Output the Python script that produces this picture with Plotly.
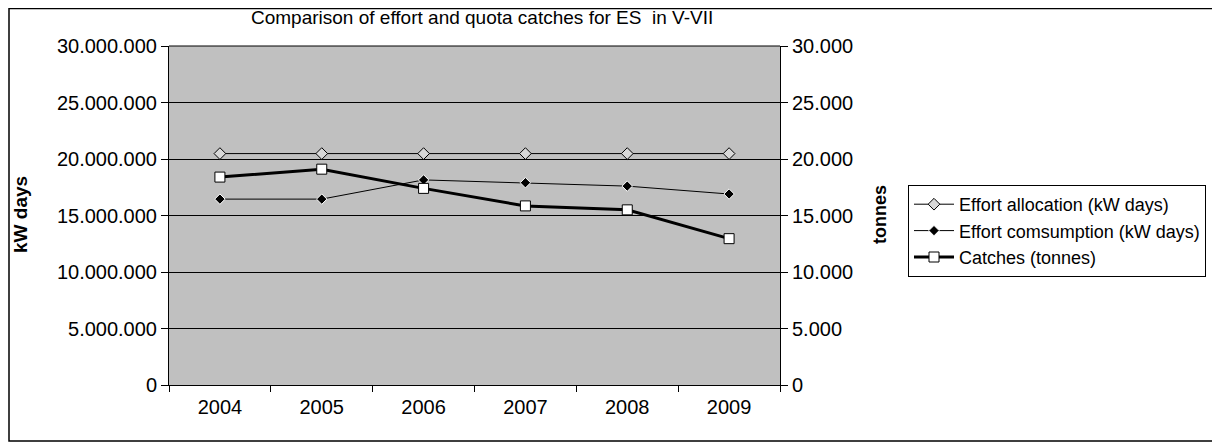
import plotly.graph_objects as go

years = ["2004", "2005", "2006", "2007", "2008", "2009"]
effort_allocation = [20480000, 20480000, 20480000, 20480000, 20480000, 20480000]
effort_consumption = [16450000, 16450000, 18150000, 17900000, 17600000, 16900000]
catches = [18400, 19100, 17400, 15850, 15500, 12950]

FONT = "Liberation Sans, Arial, sans-serif"
W, H = 1220, 445
L, R, T, B = 161, 772, 38, 377  # plot area in pixels


def px(x):
    return (x - L) / (R - L)


def py(y):
    return (B - y) / (B - T)


fig = go.Figure()
fig.add_trace(go.Scatter(
    x=years, y=effort_allocation, name="Effort allocation (kW days)",
    mode="lines+markers", line=dict(color="black", width=1),
    marker=dict(symbol="diamond", size=9, color="#D8D8D8", line=dict(color="black", width=1)),
))
fig.add_trace(go.Scatter(
    x=years, y=effort_consumption, name="Effort comsumption (kW days)",
    mode="lines+markers", line=dict(color="black", width=1),
    marker=dict(symbol="diamond", size=8, color="black", line=dict(color="white", width=1)),
))
fig.add_trace(go.Scatter(
    x=years, y=catches, name="Catches (tonnes)", yaxis="y2",
    mode="lines+markers", line=dict(color="black", width=3),
    marker=dict(symbol="square", size=10, color="white", line=dict(color="black", width=1)),
))

fig.update_layout(
    width=W, height=H,
    margin=dict(l=L, r=W - R, t=T, b=H - B),
    paper_bgcolor="white", plot_bgcolor="#C0C0C0",
    separators=",.",
    font=dict(family=FONT, size=20, color="black"),
    showlegend=True,
    legend=dict(
        x=px(900), y=py(177), xref="paper", yref="paper",
        xanchor="left", yanchor="top",
        bgcolor="white", bordercolor="black", borderwidth=1,
        font=dict(size=18), tracegroupgap=0, itemwidth=40,
    ),
    xaxis=dict(
        type="category", range=[-0.5, 5.5],
        showline=True, linecolor="black", linewidth=1,
        ticks="outside", tickson="boundaries", ticklen=6, tickcolor="black",
        showgrid=False, zeroline=False, ticklabelstandoff=4,
    ),
    yaxis=dict(
        range=[0, 30000000], dtick=5000000, tickformat=",d",
        showline=True, linecolor="black", linewidth=1,
        ticks="outside", ticklen=7, tickcolor="black",
        showgrid=True, gridcolor="black", gridwidth=1, zeroline=False,
    ),
    yaxis2=dict(
        range=[0, 30000], dtick=5000, tickformat=",d",
        overlaying="y", side="right",
        showline=True, linecolor="black", linewidth=1,
        ticks="outside", ticklen=7, tickcolor="black",
        showgrid=False, zeroline=False,
    ),
    annotations=[
        dict(text="Comparison of effort and quota catches for ES  in V-VII",
             x=px(474), y=py(10), xref="paper", yref="paper", showarrow=False,
             xanchor="center", yanchor="middle", font=dict(size=19)),
        dict(text="<b>kW days</b>", textangle=-90,
             x=px(12), y=py(207), xref="paper", yref="paper", showarrow=False,
             xanchor="center", yanchor="middle", font=dict(size=19)),
        dict(text="<b>tonnes</b>", textangle=-90,
             x=px(872), y=py(207), xref="paper", yref="paper", showarrow=False,
             xanchor="center", yanchor="middle", font=dict(size=18)),
    ],
    shapes=[
        dict(type="rect", xref="paper", yref="paper",
             x0=px(1), x1=px(1205), y0=py(433), y1=py(0.5),
             line=dict(color="black", width=1.5), layer="below"),
        dict(type="line", xref="paper", yref="paper", x0=0, x1=1, y0=1, y1=1,
             line=dict(color="black", width=1)),
    ],
)

fig.write_html("out.html")
